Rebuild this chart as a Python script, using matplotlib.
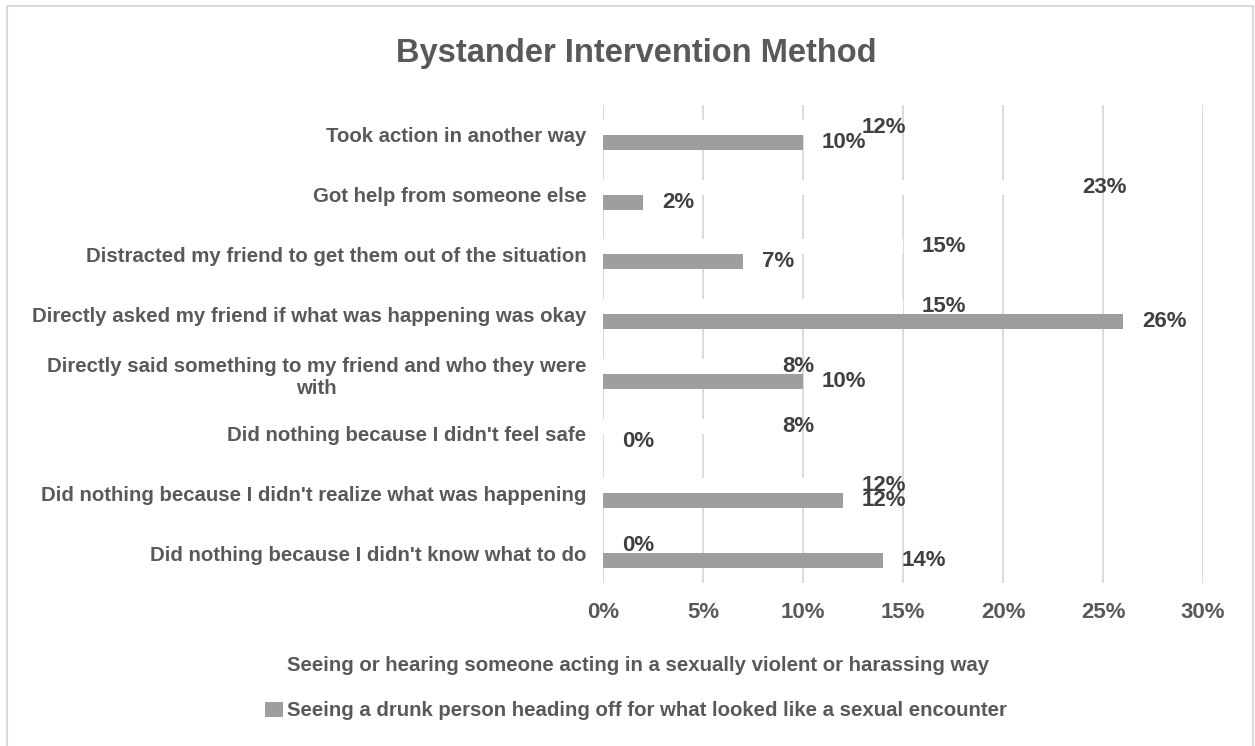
import numpy as np
import matplotlib
matplotlib.use('Agg')
import matplotlib.pyplot as plt
from matplotlib.patches import Rectangle
from matplotlib.ticker import PercentFormatter

plt.rcParams['font.family'] = ['Liberation Sans', 'DejaVu Sans']
plt.rcParams['font.weight'] = 'bold'

categories = [
    'Took action in another way',
    'Got help from someone else',
    'Distracted my friend to get them out of the situation',
    'Directly asked my friend if what was happening was okay',
    'Directly said something to my friend and who they were\nwith',
    "Did nothing because I didn't feel safe",
    "Did nothing because I didn't realize what was happening",
    "Did nothing because I didn't know what to do",
]
violent = [0.12, 0.23, 0.15, 0.15, 0.08, 0.08, 0.12, 0.00]
drunk = [0.10, 0.02, 0.07, 0.26, 0.10, 0.00, 0.12, 0.14]
series_names = [
    'Seeing or hearing someone acting in a sexually violent or harassing way',
    'Seeing a drunk person heading off for what looked like a sexual encounter',
]

W, H = 1255, 746
fig = plt.figure(figsize=(W / 100, H / 100), dpi=100)
fig.patches.append(Rectangle((7 / W, -0.01), (1253 - 7) / W, 1.01 - 6 / H,
                             transform=fig.transFigure, fill=False,
                             edgecolor='#d9d9d9', lw=1.5))

ax = fig.add_axes([603 / W, 1 - 583 / H, 600 / W, 478 / H])
y = np.arange(len(categories))
bh = 0.25
b1 = ax.barh(y - bh / 2, violent, height=bh, color='white', label=series_names[0])
b2 = ax.barh(y + bh / 2, drunk, height=bh, color='#9e9e9e', label=series_names[1])

# data labels, outside end of each bar
for vals, off in ((violent, -bh / 2), (drunk, bh / 2)):
    for yi, v in zip(y, vals):
        ax.annotate(f'{v:.0%}', xy=(v, yi + off), xytext=(19, 0),
                    textcoords='offset pixels', ha='left', va='center',
                    fontsize=16, color='#404040', fontweight='bold')

ax.set_xlim(0, 0.30)
ax.set_ylim(len(categories) - 0.5, -0.5)
ax.set_xticks(np.arange(0, 0.301, 0.05))
ax.xaxis.set_major_formatter(PercentFormatter(1.0, decimals=0))
ax.set_yticks(y)
ax.set_yticklabels(categories, fontsize=14.7, color='#595959', multialignment='center')
ax.tick_params(axis='y', length=0, pad=12)
ax.tick_params(axis='x', length=0, pad=14, labelsize=16, labelcolor='#595959')
ax.grid(axis='x', color='#d9d9d9', lw=1.3)
ax.set_axisbelow(True)
for s in ax.spines.values():
    s.set_visible(False)
ax.axvline(0, color='#d9d9d9', lw=1.3, zorder=0.5)

fig.text(636 / W, 1 - 62 / H, 'Bystander Intervention Method', ha='center',
         va='baseline', fontsize=23.5, color='#595959', fontweight='bold')

fig.legend(handles=[b1, b2], loc='center', bbox_to_anchor=(636 / W, 1 - 688 / H),
           ncol=1, frameon=False, fontsize=14.7, labelcolor='#595959',
           handlelength=0.85, handleheight=0.75, handletextpad=0.2,
           labelspacing=1.3, borderpad=0)

fig.savefig('out.png', dpi=100)
